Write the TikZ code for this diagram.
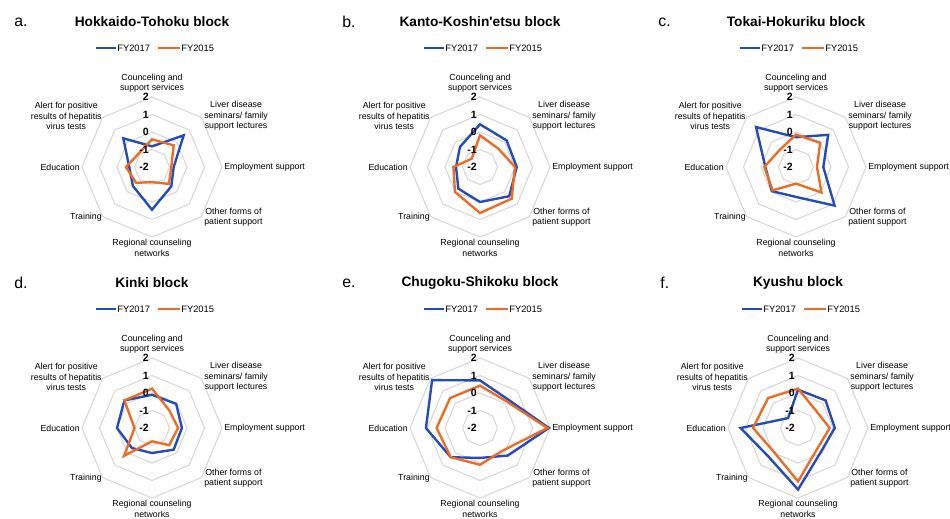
\documentclass[tikz,border=0pt]{standalone}
\usepackage{fontspec}
\setmainfont{Liberation Sans}
\usepackage{xcolor}
\usepackage{tikz}
\usetikzlibrary{calc}

\definecolor{fyblue}{RGB}{35,75,185}
\definecolor{fyorange}{RGB}{236,108,36}
\definecolor{gridgray}{RGB}{215,215,215}

\tikzset{
    gridring/.style={draw=gridgray, line width=0.6pt},
    fyline/.style={line width=1.35pt, line join=miter},
    catlabel/.style={inner sep=0pt, align=center, font=\fontsize{5}{5.9}\selectfont},
    ticklabel/.style={inner sep=0pt, anchor=east, font=\fontsize{6}{7}\selectfont\bfseries},
    blocktitle/.style={inner sep=0pt, font=\fontsize{7.8}{9}\selectfont\bfseries},
    panelletter/.style={inner sep=0pt, anchor=west, font=\fontsize{9}{10}\selectfont},
    legendtext/.style={inner sep=0.6pt, anchor=west, font=\fontsize{5.3}{6}\selectfont},
}

\begin{document}
\begin{tikzpicture}[x=0.02cm, y=0.02cm]
        \useasboundingbox (0,0) rectangle (950,-518);
        \fill[white] (0,0) rectangle (950,-518);
        \clip (0,0) rectangle (950,-518);

        % one radar chart per block
        \foreach \cx/\cy/\lbl/\ttl/\bvals/\ovals in {
            152/167/a/Hokkaido-Tohoku block/{-0.82,0.56,-0.76,-0.44,0.44,-0.46,-0.70,0.32}/{-0.42,-0.25,-0.90,-0.63,-1.14,-0.72,-0.51,-0.92},
            480/167/b/Kanto-Koshin\textquotesingle etsu block/{0.44,0.15,0.10,0.36,0.00,-0.25,-0.63,-0.38}/{-0.19,-0.52,0.00,0.56,0.63,0.02,-0.48,-1.33},
            796/167/c/Tokai-Hokuriku block/{-0.30,0.60,-0.44,1.12,-0.29,-0.05,-0.25,1.23}/{-0.15,-0.05,-0.80,0.06,-1.05,-0.11,-0.19,-0.65},
            152/428/d/Kinki block/{-0.10,-0.05,-0.29,-0.25,-0.57,-0.38,0.00,0.23}/{0.25,-0.59,-0.51,-0.61,-1.24,0.25,-1.00,0.23},
            480/428/e/Chugoku-Shikoku block/{0.72,0.29,1.94,0.23,-0.29,0.36,1.09,1.87}/{0.42,0.15,1.85,-0.17,0.10,0.36,0.48,0.42},
            798/428/f/Kyushu block/{0.19,0.23,0.10,-0.12,1.52,0.35,1.28,-1.20}/{0.25,-0.57,-0.19,-0.40,1.05,-0.06,0.57,0.42}}
        {
            \begin{scope}[shift={(\cx,-\cy)}]
                \node[panelletter] (letter-\lbl) at (-138,145) {\lbl.};
                \node[blocktitle] (title-\lbl) at (0,145) {\ttl};

                % legend
                \coordinate (lgb1) at (-56,119);
                \coordinate (lgb2) at (-36,119);
                \coordinate (lgo1) at (6,119);
                \coordinate (lgo2) at (28,119);
                \draw[fyline, fyblue] (lgb1) -- (lgb2);
                \node[legendtext] (lgb-\lbl) at (lgb2) {FY2017};
                \draw[fyline, fyorange] (lgo1) -- (lgo2);
                \node[legendtext] (lgo-\lbl) at (lgo2) {FY2015};

                % grid rings
                \foreach \k in {1,...,4}
                    \draw[gridring] (90:{17.5*\k}) \foreach \a in {1,...,7} {-- ({90-45*\a}:{17.5*\k})} -- cycle;

                % series
                \foreach \v [count=\i from 0] in \bvals
                    \coordinate (b\i) at ({90-45*\i}:{17.5*(\v+2)});
                \foreach \v [count=\i from 0] in \ovals
                    \coordinate (o\i) at ({90-45*\i}:{17.5*(\v+2)});
                \draw[fyline, fyblue] (b0) -- (b1) -- (b2) -- (b3) -- (b4) -- (b5) -- (b6) -- (b7) -- cycle;
                \draw[fyline, fyorange] (o0) -- (o1) -- (o2) -- (o3) -- (o4) -- (o5) -- (o6) -- (o7) -- cycle;

                % value axis
                \foreach \t [count=\k from 0] in {-2,-1,0,1,2}
                    \node[ticklabel] (tick-\lbl\k) at (-3,{17.5*\k}) {\t};

                % categories
                \node[catlabel, anchor=south] (cat0-\lbl) at (0,74) {Counceling and\\support services};
                \node[catlabel, anchor=west] (cat1-\lbl) at (52,51) {Liver disease\\seminars/ family\\support lectures};
                \node[catlabel, anchor=west] (cat2-\lbl) at (72,0) {Employment support};
                \node[catlabel, anchor=west] (cat3-\lbl) at (52,-50) {Other forms of\\patient support};
                \node[catlabel, anchor=north] (cat4-\lbl) at (0,-72) {Regional counseling\\networks};
                \node[catlabel, anchor=east] (cat5-\lbl) at (-50,-50) {Training};
                \node[catlabel, anchor=east] (cat6-\lbl) at (-72,0) {Education};
                \node[catlabel, anchor=east] (cat7-\lbl) at (-50,51) {Alert for positive\\results of hepatitis\\virus tests};
            \end{scope}
        }
\end{tikzpicture}
\end{document}
